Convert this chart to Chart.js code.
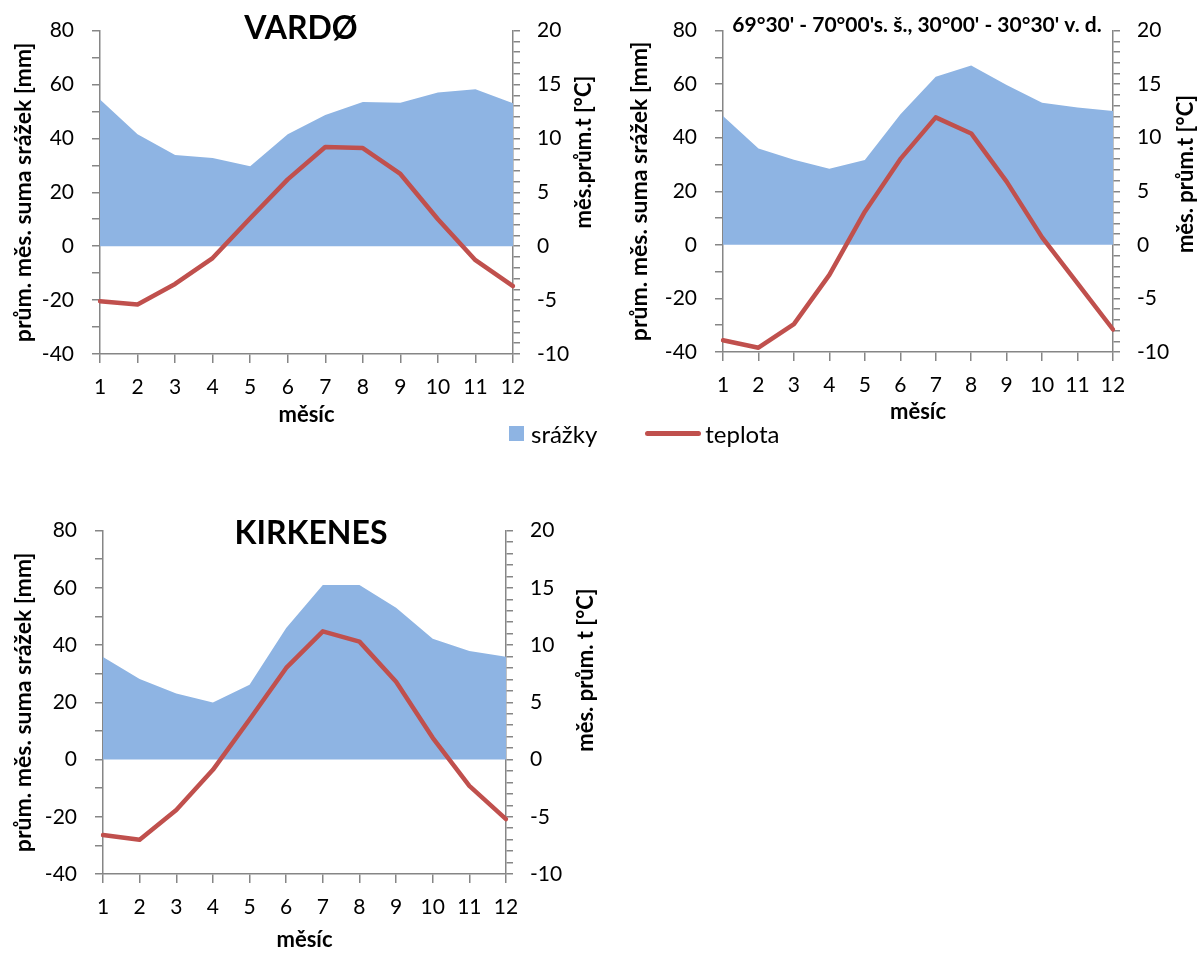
<!DOCTYPE html>
<html>
<head>
<meta charset="utf-8">
<script src="https://cdn.jsdelivr.net/npm/chart.js@4"></script>
<style>
  body { margin: 0; background: #fff; width: 1200px; height: 953px; position: relative; overflow: hidden; font-family: Lato, sans-serif; }
  canvas { position: absolute; }
  #legend { position: absolute; left: 509px; top: 419px; height: 28px; font-size: 24px; color: #000; display: flex; align-items: center; }
  #legend .box { width: 15px; height: 15px; background: rgb(142, 180, 227); margin-right: 7px; }
  #legend .line { width: 56px; height: 5px; border-radius: 3px; background: #c0504d; margin-left: 48px; margin-right: 4px; }
</style>
</head>
<body>
<canvas id="chartVardo" width="598" height="430" style="left:0;top:0"></canvas>
<canvas id="chartGrid" width="600" height="430" style="left:600px;top:0"></canvas>
<canvas id="chartKirkenes" width="598" height="453" style="left:0;top:500px"></canvas>
<div id="legend"></div>
<script>
const months = ["1", "2", "3", "4", "5", "6", "7", "8", "9", "10", "11", "12"];
const seriesNames = ["srážky", "teplota"];

// VARDØ
const vardoPrecip = [54.4, 41.5, 33.8, 32.7, 29.7, 41.5, 48.7, 53.5, 53.2, 57, 58.2, 53];
const vardoTemp = [-5.1, -5.4, -3.5, -1.1, 2.6, 6.2, 9.2, 9.1, 6.7, 2.5, -1.3, -3.7];

// 69°30' - 70°00' s. š., 30°00' - 30°30' v. d.
const gridPrecip = [48.1, 36, 31.8, 28.4, 31.7, 48.7, 62.8, 67, 59.7, 53.1, 51.3, 50];
const gridTemp = [-8.9, -9.6, -7.4, -2.8, 3.1, 8.0, 11.9, 10.4, 5.9, 0.7, -3.6, -7.9];

// KIRKENES
const kirkPrecip = [35.8, 28.1, 23.1, 19.9, 26.1, 46, 61, 61, 53, 42.2, 37.9, 35.9];
const kirkTemp = [-6.6, -7.0, -4.4, -0.9, 3.5, 8.0, 11.2, 10.3, 6.8, 1.9, -2.3, -5.2];

const areaColor = "rgb(142, 180, 227)";
const lineColor = "#c0504d";
const axisColor = "#868686";
const fontFamily = "Lato, 'Open Sans', sans-serif";

// chart title and right axis title (reads bottom to top, like the original)
const chartText = {
  id: "chartText",
  afterDraw(chart, args, opts) {
    const ctx = chart.ctx;
    ctx.save();
    ctx.fillStyle = "#000";
    ctx.textAlign = "center";
    ctx.textBaseline = "middle";
    ctx.font = opts.titleFont;
    ctx.fillText(opts.title, opts.titleX, opts.titleY);
    ctx.translate(opts.rightX, opts.rightY);
    ctx.rotate(-Math.PI / 2);
    ctx.font = "bold 22px " + fontFamily;
    ctx.fillText(opts.rightTitle, 0, 0);
    ctx.restore();
  }
};

function buildChart(id, precip, temp, o) {
  const tickFont = { family: fontFamily, size: 21 };
  return new Chart(document.getElementById(id), {
    type: "line",
    data: {
      labels: months,
      datasets: [
        {
          label: seriesNames[0],
          data: precip,
          yAxisID: "y",
          fill: "origin",
          backgroundColor: areaColor,
          borderColor: "rgba(0,0,0,0)",
          borderWidth: 0,
          pointRadius: 0,
          order: 2
        },
        {
          label: seriesNames[1],
          data: temp,
          yAxisID: "y1",
          fill: false,
          borderColor: lineColor,
          borderWidth: 4.5,
          borderJoinStyle: "round",
          borderCapStyle: "round",
          pointRadius: 0,
          order: 1
        }
      ]
    },
    options: {
      responsive: false,
      animation: false,
      layout: { padding: { top: o.top, left: 0, right: 0, bottom: 0 } },
      plugins: {
        legend: { display: false },
        tooltip: { enabled: false },
        chartText: {
          title: o.title,
          titleFont: o.titleFont,
          titleX: o.titleX,
          titleY: o.titleY,
          rightTitle: o.rightTitle,
          rightX: o.rightX,
          rightY: o.rightY
        }
      },
      scales: {
        x: {
          offset: false,
          grid: { drawOnChartArea: false, tickLength: 9, color: axisColor, lineWidth: 1.5 },
          border: { color: axisColor, width: 1.5 },
          ticks: { font: tickFont, color: "#000", padding: 12, maxRotation: 0, autoSkip: false },
          title: {
            display: true, text: "měsíc", color: "#000",
            font: { family: fontFamily, size: 22, weight: "bold" },
            padding: { top: 0, bottom: o.xTitlePad }
          },
          afterFit(s) { s.height = o.xh; }
        },
        y: {
          position: "left",
          min: -40,
          max: 80,
          grid: { drawOnChartArea: false, tickLength: 8, color: axisColor, lineWidth: 1.5 },
          border: { color: axisColor, width: 1.5 },
          ticks: {
            stepSize: 10,
            autoSkip: false,
            font: tickFont,
            color: "#000",
            padding: 18,
            callback: (v) => (v % 20 === 0 ? v : "")
          },
          title: {
            display: true, text: "prům. měs. suma srážek [mm]", color: "#000",
            font: { family: fontFamily, size: 23, weight: "bold" },
            padding: { top: o.leftTitlePad, bottom: 0 }
          },
          afterFit(s) { s.width = o.leftW; }
        },
        y1: {
          position: "right",
          min: -10,
          max: 20,
          grid: { drawOnChartArea: false, tickLength: 7, color: axisColor, lineWidth: 1.5 },
          border: { color: axisColor, width: 1.5 },
          ticks: {
            stepSize: 1,
            autoSkip: false,
            font: tickFont,
            color: "#000",
            padding: 17,
            callback: (v) => (v % 5 === 0 ? v : "")
          },
          afterFit(s) { s.width = o.rightW; }
        }
      }
    },
    plugins: [chartText]
  });
}

buildChart("chartVardo", vardoPrecip, vardoTemp, {
  top: 24, xh: 76, xTitlePad: 2, leftW: 100, rightW: 85, leftTitlePad: 10,
  title: "VARDØ", titleFont: "bold 32px " + fontFamily, titleX: 301, titleY: 29,
  rightTitle: "měs.prům.t [°C]", rightX: 584, rightY: 152
});

buildChart("chartGrid", gridPrecip, gridTemp, {
  top: 24, xh: 78, xTitlePad: 5, leftW: 123, rightW: 87, leftTitlePad: 26,
  title: "69°30' - 70°00's. š., 30°00' - 30°30' v. d.", titleFont: "bold 21px " + fontFamily, titleX: 317, titleY: 25,
  rightTitle: "měs. prům.t [°C]", rightX: 586, rightY: 174
});

buildChart("chartKirkenes", kirkPrecip, kirkTemp, {
  top: 29, xh: 79, xTitlePad: 0, leftW: 103, rightW: 92, leftTitlePad: 10,
  title: "KIRKENES", titleFont: "bold 32px " + fontFamily, titleX: 311, titleY: 34,
  rightTitle: "měs. prům. t [°C]", rightX: 586, rightY: 170
});

const legend = document.getElementById("legend");
legend.innerHTML =
  '<span class="box"></span><span>' + seriesNames[0] + '</span>' +
  '<span class="line"></span><span>' + seriesNames[1] + '</span>';
</script>
</body>
</html>
